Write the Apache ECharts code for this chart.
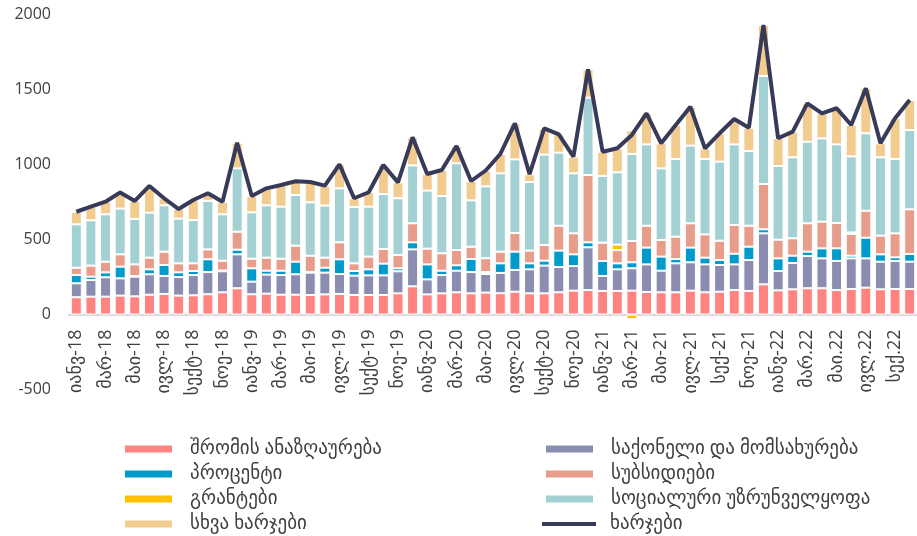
<!DOCTYPE html>
<html>
<head>
<meta charset="utf-8">
<script src="https://cdn.jsdelivr.net/npm/echarts@6/dist/echarts.min.js"></script>
<style>
  html, body { margin: 0; padding: 0; background: #fff; }
  #main { width: 917px; height: 536px; }
</style>
</head>
<body>
<div id="main"></div>
<script>
var months = [
    'იანვ-18','თებ-18','მარ-18','აპრ-18','მაი-18','ივნ-18','ივლ-18','აგვ-18','სექტ-18','ოქტ-18','ნოე-18','დეკ-18',
    'იანვ-19','თებ-19','მარ-19','აპრ-19','მაი-19','ივნ-19','ივლ-19','აგვ-19','სექტ-19','ოქტ-19','ნოე-19','დეკ-19',
    'იანვ-20','თებ-20','მარ-20','აპრ-20','მაი-20','ივნ-20','ივლ-20','აგვ-20','სექტ-20','ოქტ-20','ნოე-20','დეკ-20',
    'იანვ-21','თებ-21','მარ-21','აპრ-21','მაი-21','ივნ-21','ივლ-21','აგვ-21','სექ-21','ოქტ-21','ნოე-21','დეკ-21',
    'იანვ-22','თებ.22','მარ.22','აპრ.22','მაი.22','ივნ.22','ივლ.22','აგვ.22','სექ.22','ოქტ.22'
];

// შრომის ანაზღაურება
var labor = [115,119,119,126,121,132,137,126,128,135,148,175,
    135,139,132,132,130,134,137,130,130,130,141,188,
    134,141,148,141,146,142,152,141,141,148,159,163,
    157,157,159,150,148,148,159,148,152,163,157,201,
    161,168,175,175,163,170,179,168,170,170];
// საქონელი და მომსახურება
var goods = [93,111,129,115,131,136,120,124,135,148,140,226,
    84,127,131,136,149,145,133,129,131,131,147,246,
    100,122,144,142,124,135,145,160,185,169,164,285,
    100,144,149,184,144,193,189,186,178,171,206,340,
    129,175,215,199,194,204,195,184,187,182];
// პროცენტი
var interest = [55,22,33,78,4,33,73,31,27,85,5,31,
    89,26,29,84,5,33,98,31,40,78,20,47,
    100,29,36,87,13,64,122,40,33,109,78,33,
    100,40,40,112,94,29,98,45,33,71,89,27,
    84,49,29,67,84,18,138,49,24,51];
// სუბსიდიები
var subsidies = [49,74,71,82,78,78,89,60,51,66,66,120,
    64,87,80,107,108,67,113,51,85,98,89,127,
    105,116,102,82,92,78,124,85,104,166,140,449,
    122,88,142,146,111,149,162,155,129,192,140,302,
    125,116,189,178,169,145,180,125,160,298];
// გრანტები
var grants = [0,0,0,0,0,0,0,0,0,0,0,0,
    0,0,0,0,0,0,0,0,0,0,0,0,
    0,0,0,0,0,0,0,0,0,0,0,0,
    0,37,-30,0,0,0,0,0,0,0,0,0,
    0,0,0,0,0,10,0,0,0,0];
// სოციალური უზრუნველყოფა
var social = [289,302,316,305,303,300,309,298,289,323,309,422,
    309,349,347,338,356,347,360,376,333,366,378,386,
    387,382,578,309,479,522,491,457,603,487,400,516,
    444,482,580,542,477,518,518,503,527,537,498,720,
    491,540,544,555,524,507,516,522,496,529];
// სხვა ხარჯები
var other = [84,91,84,108,120,178,47,64,133,51,84,171,
    109,113,144,91,135,133,160,58,96,194,106,187,
    111,173,115,129,106,129,240,52,175,122,111,188,
    162,160,157,207,167,226,259,71,189,169,155,340,
    185,171,256,167,241,209,300,93,271,200];
// ხარჯები (სულ)
var total = [685,719,752,814,757,857,775,703,763,808,752,1145,
    790,841,863,888,883,859,1001,775,815,997,881,1181,
    937,963,1123,890,960,1070,1274,935,1241,1201,1052,1634,
    1085,1108,1197,1341,1141,1263,1385,1108,1208,1303,1245,1930,
    1175,1219,1408,1341,1375,1263,1508,1141,1308,1430];

var yTicks = [-500, 0, 500, 1000, 1500, 2000];

var names = ['შრომის ანაზღაურება','საქონელი და მომსახურება','პროცენტი','სუბსიდიები',
    'გრანტები','სოციალური უზრუნველყოფა','სხვა ხარჯები','ხარჯები'];
var colors = ['#FF8380','#8A8DB0','#009BCB','#E89C8A','#FFC000','#A3D0D3','#F2CC8E','#383A5A'];
var barData = [labor, goods, interest, subsidies, grants, social, other];

var font = '"Open Sans", "DejaVu Sans", sans-serif';
var textColor = '#404040';

var myChart = echarts.init(document.getElementById('main'));

var series = barData.map(function (d, i) {
    return {
        name: names[i],
        type: 'bar',
        stack: 'exp',
        barWidth: 11,
        data: d,
        itemStyle: {
            color: colors[i],
            borderColor: '#fff',
            borderWidth: 1
        }
    };
});
series.push({
    name: names[7],
    type: 'line',
    data: total,
    symbol: 'none',
    z: 5,
    itemStyle: { color: colors[7] },
    lineStyle: { color: colors[7], width: 4 }
});

var legendText = {
    color: textColor,
    fontSize: 19,
    fontFamily: font,
    lineHeight: 20,
    padding: [0, 0, 0, 12]
};

var option = {
    animation: false,
    color: colors,
    grid: {
        left: 69,
        top: 14.5,
        width: 851,
        height: 375
    },
    legend: [
        {//左列
            orient: 'vertical',
            left: 123, top: 439,
            padding: 0,
            itemGap: 5,
            itemWidth: 49, itemHeight: 9,
            icon: 'rect',
            textStyle: legendText,
            data: [names[0], names[2], names[4], names[6]]
        },
        {
            orient: 'vertical',
            left: 544, top: 439,
            padding: 0,
            itemGap: 5,
            itemWidth: 49, itemHeight: 9,
            icon: 'rect',
            textStyle: legendText,
            data: [names[1], names[3], names[5]]
        },
        {//线
            left: 542, top: 514,
            padding: 0,
            itemWidth: 54, itemHeight: 4,
            icon: 'rect',
            textStyle: {
                color: textColor,
                fontSize: 19,
                fontFamily: font,
                lineHeight: 20,
                padding: [0, 0, 0, 9]
            },
            data: [names[7]]
        }
    ],
    xAxis: {
        type: 'category',
        data: months,
        axisTick: { show: false },
        axisLine: {
            onZero: true,
            lineStyle: { color: '#D9D9D9', width: 2 }
        },
        axisLabel: {
            interval: 1,
            rotate: 90,
            margin: -60,//标签贴着0轴
            color: textColor,
            fontSize: 18,
            fontFamily: font
        }
    },
    yAxis: {
        type: 'value',
        min: yTicks[0],
        max: yTicks[yTicks.length - 1],
        interval: 500,
        splitLine: { show: false },
        axisLine: { show: false },
        axisTick: { show: false },
        axisLabel: {
            margin: 18,
            color: textColor,
            fontSize: 16,
            fontFamily: font,
            formatter: function (v) { return String(v); }
        }
    },
    series: series
};

myChart.setOption(option);
</script>
</body>
</html>
